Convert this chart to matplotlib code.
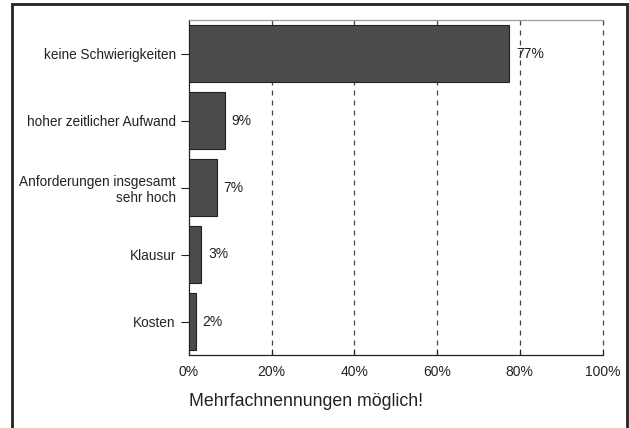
import matplotlib
matplotlib.use("Agg")
import matplotlib.pyplot as plt
from matplotlib.patches import Rectangle

plt.rcParams["font.family"] = ["Liberation Sans", "DejaVu Sans"]

categories = ["keine Schwierigkeiten", "hoher zeitlicher Aufwand",
              "Anforderungen insgesamt\nsehr hoch", "Klausur", "Kosten"]
values = [77.4, 8.6, 6.7, 2.9, 1.6]
value_labels = ["77%", "9%", "7%", "3%", "2%"]
x_ticks = [0, 20, 40, 60, 80, 100]
x_ticklabels = ["0%", "20%", "40%", "60%", "80%", "100%"]

W, H = 629, 428
fig = plt.figure(figsize=(W / 100, H / 100), dpi=100)
fig.patch.set_facecolor("white")

# outer frame (open at the bottom edge of the image)
fig.patches.append(Rectangle((12 / W, -0.02), (626.5 - 12) / W, (H - 4) / H + 0.02,
                             transform=fig.transFigure, fill=False,
                             edgecolor="#222222", linewidth=2, zorder=0))

ax = fig.add_axes([189 / W, (H - 355) / H, (602.5 - 189) / W, (355 - 20) / H])

ypos = list(range(len(categories)))
ax.barh(ypos, values, height=0.85, color="#4d4b4a", edgecolor="#222222",
        linewidth=0.8, zorder=3)
for y, v, lab in zip(ypos, values, value_labels):
    ax.text(v + 1.7, y, lab, va="center", ha="left", fontsize=10,
            color="#222222", zorder=4)

ax.set_xlim(0, 100)
ax.set_ylim(len(categories) - 0.5, -0.5)
ax.set_yticks(ypos)
ax.set_yticklabels(categories, fontsize=9.8, color="#222222")
ax.set_xticks(x_ticks)
ax.set_xticklabels(x_ticklabels, fontsize=10, color="#222222")
ax.tick_params(axis="y", length=6, width=0.8, color="#222222", pad=3.5)
ax.tick_params(axis="x", direction="in", length=4.5, width=0.8,
               color="#222222", pad=7.5)

for x in x_ticks[1:]:
    ax.axvline(x, color="#444444", linestyle=(0, (4, 4)), linewidth=0.9,
               zorder=1, clip_on=False)

ax.spines["left"].set_color("#222222")
ax.spines["bottom"].set_color("#222222")
ax.spines["top"].set_color("#999999")
ax.spines["right"].set_visible(False)
for s in ["left", "bottom", "top"]:
    ax.spines[s].set_linewidth(0.9)

fig.text(189 / W, 1 - 402 / H, "Mehrfachnennungen möglich!", fontsize=12.8,
         color="#222222", va="center", ha="left")

fig.savefig("out.png", dpi=100)
